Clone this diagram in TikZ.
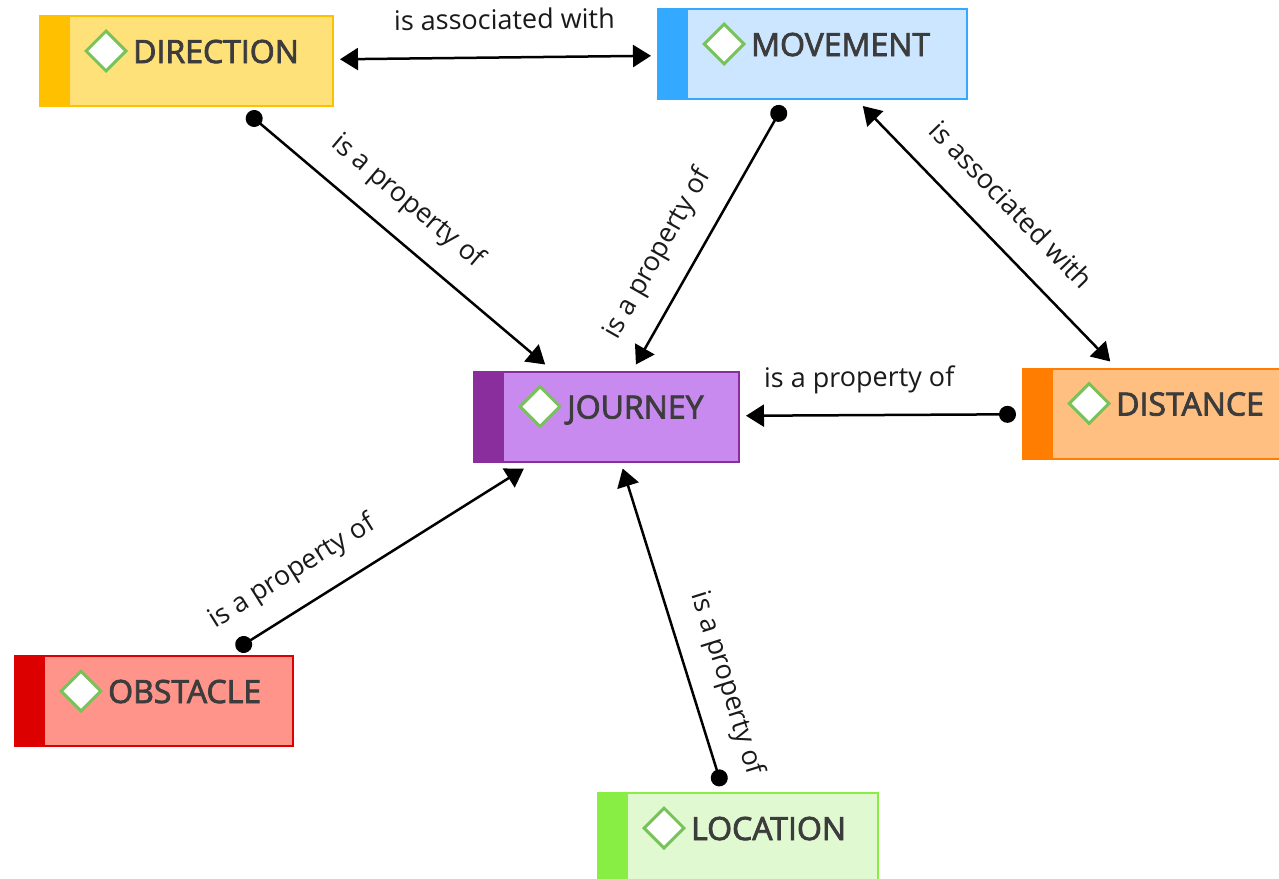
\documentclass[tikz,border=0pt]{standalone}
\usepackage{fontspec}
\setmainfont{Open Sans}
\newfontfamily\boxfont{Open Sans}[FakeBold=2.5]
\usetikzlibrary{arrows.meta,shapes.geometric}
\definecolor{dirS}{HTML}{FFC000}\definecolor{dirF}{HTML}{FFE17A}
\definecolor{movS}{HTML}{33AAFF}\definecolor{movF}{HTML}{CCE6FF}
\definecolor{jouS}{HTML}{8A2E9E}\definecolor{jouF}{HTML}{C98AF0}
\definecolor{disS}{HTML}{FF7D00}\definecolor{disF}{HTML}{FFBF80}
\definecolor{obsS}{HTML}{DD0000}\definecolor{obsF}{HTML}{FF958A}
\definecolor{locS}{HTML}{88EE44}\definecolor{locF}{HTML}{E0F9D0}
\definecolor{gemgreen}{HTML}{78C25A}
\definecolor{ctextc}{HTML}{3C3C3C}
\definecolor{lblc}{HTML}{1A1A1A}
\newcommand{\concept}[7]{%
  \node[conc, draw=#5, fill=#6, minimum width=#4pt] (#1) at (#2,#3) {};
  \fill[#5] ([xshift=7pt,yshift=-7pt]#1.north west) rectangle ([xshift=37pt,yshift=7pt]#1.south west);
  \node[gem] (#1-g) at ([xshift=73pt,yshift=-42pt]#1.north west) {};
  \node[ctext] (#1-t) at ([xshift=100pt,yshift=-54pt]#1.north west) {#7};
}
\begin{document}
\begin{tikzpicture}[x=1pt,y=-1pt,
  conc/.style={rectangle, line width=2pt, minimum height=90pt, outer sep=7pt, inner sep=0pt},
  gem/.style={diamond, draw=gemgreen, fill=white, line width=3pt, minimum width=41pt, minimum height=41pt, inner sep=0pt},
  ctext/.style={anchor=base west, inner sep=0pt, text=ctextc, font=\boxfont\fontsize{32}{38}\selectfont},
  link/.style={line width=2.5pt, draw=black},
  prop/.style={link, {Circle[length=17pt]}-{Triangle[length=18pt,width=22pt]}},
  assoc/.style={link, {Triangle[length=18pt,width=22pt]}-{Triangle[length=18pt,width=22pt]}},
  lbl/.style={sloped, above=20pt, inner sep=0pt, text height=20pt, text depth=7pt, font=\fontsize{27}{32}\selectfont, text=lblc}
]
\useasboundingbox (0,0) rectangle (1279,878);
\fill[white] (0,0) rectangle (1279,878);
\concept{dir}{186.5}{61}{293}{dirS}{dirF}{DIRECTION}
\concept{mov}{812.5}{54}{309}{movS}{movF}{MOVEMENT}
\concept{jou}{606.5}{416.5}{265}{jouS}{jouF}{JOURNEY}
\concept{dis}{1160.5}{413.5}{275}{disS}{disF}{DISTANCE}
\concept{obs}{154}{701}{278}{obsS}{obsF}{OBSTACLE}
\concept{loc}{738}{838}{280}{locS}{locF}{LOCATION}
\draw[assoc] (dir) -- node[lbl, pos=0.53] (l1) {is associated with} (mov);
\draw[prop] (dir) -- node[lbl, pos=0.46] (l2) {is a property of} (jou);
\draw[prop] (mov) -- node[lbl, pos=0.64] (l3) {is a property of} (jou);
\draw[assoc] (mov) -- node[lbl, pos=0.49] (l4) {is associated with} (dis);
\draw[prop] (dis) -- node[lbl, pos=0.58] (l5) {is a property of} (jou);
\draw[prop] (obs) -- node[lbl, pos=0.26] (l6) {is a property of} (jou);
\draw[prop] (loc) -- node[lbl, pos=0.29] (l7) {is a property of} (jou);
\end{tikzpicture}
\end{document}
